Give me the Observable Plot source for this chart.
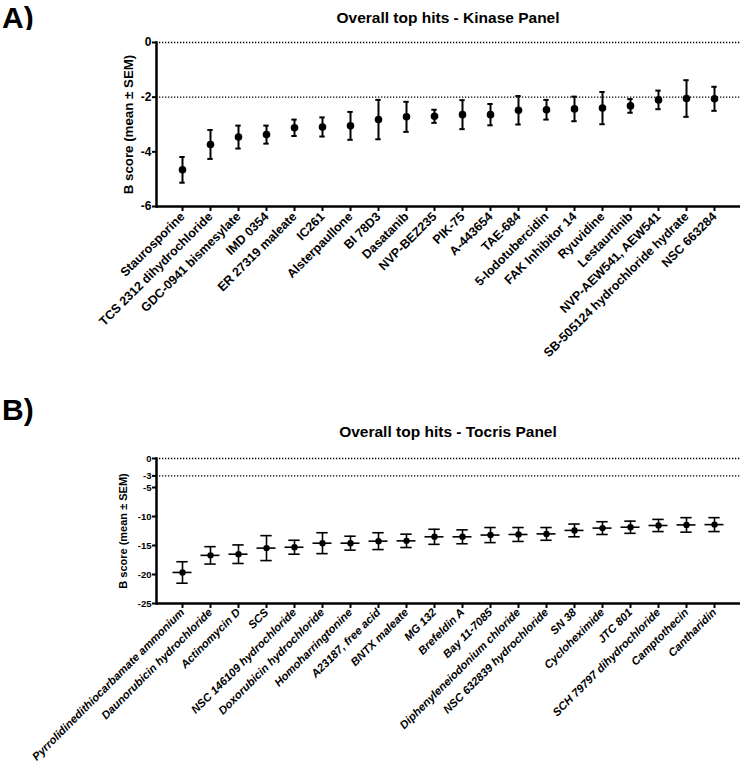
<!DOCTYPE html>
<html><head><meta charset="utf-8">
<script src="https://cdn.jsdelivr.net/npm/d3@7"></script>
<script src="https://cdn.jsdelivr.net/npm/@observablehq/plot@0.6"></script>
<style>
body{margin:0;background:#fff;font-family:"Liberation Sans",Arial,sans-serif;}
#root{position:relative;width:740px;height:770px;overflow:hidden;background:#fff}
.lab{position:absolute;left:2px;font-weight:bold;font-size:30px;line-height:30px;color:#000}
.ttl{position:absolute;left:156px;width:584px;text-align:center;font-weight:bold;font-size:15.5px;line-height:18px;color:#000;white-space:nowrap}
.chart{position:absolute;left:0}
</style></head>
<body><div id="root">
<div class="lab" style="top:3px">A)</div>
<div class="ttl" style="top:8.5px">Overall top hits - Kinase Panel</div>
<div class="chart" id="a" style="top:30px"></div>
<div class="lab" style="top:395px">B)</div>
<div class="ttl" style="top:423px">Overall top hits - Tocris Panel</div>
<div class="chart" id="b" style="top:440px"></div>
</div>
<script>
const kinaseNames = ["Staurosporine","TCS 2312 dihydrochloride","GDC-0941 bismesylate","IMD 0354","ER 27319 maleate","IC261","Alsterpaullone","BI 78D3","Dasatanib","NVP-BEZ235","PIK-75","A-443654","TAE-684","5-Iodotubercidin","FAK Inhibitor 14","Ryuvidine","Lestaurtinib","NVP-AEW541, AEW541","SB-505124 hydrochloride hydrate","NSC 663284"];
const kinaseMean = [-4.66,-3.73,-3.46,-3.37,-3.12,-3.09,-3.05,-2.82,-2.72,-2.70,-2.64,-2.64,-2.48,-2.46,-2.43,-2.40,-2.32,-2.10,-2.05,-2.06];
const kinaseSem  = [0.47,0.53,0.42,0.33,0.30,0.35,0.51,0.72,0.55,0.24,0.53,0.39,0.52,0.36,0.45,0.59,0.25,0.34,0.67,0.44];
const kinaseTicks = [0,-2,-4,-6];
const kinaseRefs = [0,-2];

const tocrisNames = ["Pyrrolidinedithiocarbamate ammonium","Daunorubicin hydrochloride","Actinomycin D","SCS","NSC 146109 hydrochloride","Doxorubicin hydrochloride","Homoharringtonine","A23187, free acid","BNTX maleate","MG 132","Brefeldin A","Bay 11-7085","Diphenyleneiodonium chloride","NSC 632839 hydrochloride","SN 38","Cycloheximide","JTC 801","SCH 79797 dihydrochloride","Camptothecin","Cantharidin"];
const tocrisMean = [-19.65,-16.7,-16.5,-15.45,-15.3,-14.6,-14.6,-14.25,-14.2,-13.5,-13.5,-13.2,-13.1,-13.0,-12.4,-12.0,-11.85,-11.55,-11.45,-11.4];
const tocrisSem  = [1.85,1.5,1.6,2.15,1.2,1.8,1.2,1.45,1.15,1.3,1.2,1.3,1.2,1.1,1.1,1.1,1.05,1.05,1.25,1.2];
const tocrisTicks = [0,-3,-5,-10,-15,-20,-25];
const tocrisRefs = [0,-3];

const yLabel = "B score (mean ± SEM)";
const fmt = d => d === 0 ? "0" : "-" + Math.abs(d);

function build(names, means, sems, cfg) {
  const data = names.map((n, i) => ({name: n, mean: means[i], lo: means[i] - sems[i], hi: means[i] + sems[i]}));
  const marks = [
    Plot.ruleY(cfg.refs, {stroke: "#000", strokeWidth: 1.3, strokeDasharray: "1.3,1.7"}),
    Plot.ruleX(data, {x: "name", y1: "lo", y2: "hi", stroke: "#000", strokeWidth: cfg.sw}),
    Plot.tickY(data, {x: "name", y: "lo", stroke: "#000", strokeWidth: cfg.sw, insetLeft: cfg.capInset, insetRight: cfg.capInset}),
    Plot.tickY(data, {x: "name", y: "hi", stroke: "#000", strokeWidth: cfg.sw, insetLeft: cfg.capInset, insetRight: cfg.capInset}),
  ];
  if (cfg.meanInset != null) {
    marks.push(Plot.tickY(data, {x: "name", y: "mean", stroke: "#000", strokeWidth: cfg.sw, insetLeft: cfg.meanInset, insetRight: cfg.meanInset}));
  }
  marks.push(
    Plot.dot(data, {x: "name", y: "mean", r: cfg.r, fill: "#000", stroke: "none"}),
    Plot.ruleY([cfg.domain[0]], {stroke: "#000", strokeWidth: 2.5}),
    Plot.frame({anchor: "left", stroke: "#000", strokeWidth: 2.5}),
    Plot.axisY({ticks: cfg.ticks, tickFormat: fmt, tickSize: 4, strokeWidth: 2, tickPadding: 1, fontSize: cfg.yFont, fontWeight: "bold", label: null}),
    Plot.text([yLabel], {frameAnchor: "left", dx: cfg.labelDx, rotate: -90, textAnchor: "middle", lineAnchor: "middle", fontSize: cfg.labelFont, fontWeight: "bold", fill: "#000"}),
    Plot.axisX({tickRotate: -45, tickSize: 5, strokeWidth: 2, tickPadding: cfg.xPad, fontSize: cfg.xFont, fontWeight: "bold", fontStyle: cfg.xStyle, label: null})
  );
  return Plot.plot({
    width: 740, height: cfg.height,
    marginLeft: 156, marginRight: 0, marginTop: cfg.mt, marginBottom: cfg.mb,
    style: {fontFamily: "'Liberation Sans', Arial, sans-serif", fontWeight: "bold", color: "#000", background: "#fff", overflow: "visible"},
    x: {type: "band", domain: names, range: [161.5, 733.5], padding: 0, label: null},
    y: {domain: cfg.domain, label: null},
    marks
  });
}

document.getElementById("a").append(build(kinaseNames, kinaseMean, kinaseSem, {
  height: 340, mt: 12, mb: 164, domain: [-6, 0], ticks: kinaseTicks, refs: kinaseRefs,
  sw: 2, capInset: 11.3, meanInset: null, r: 3.8, yFont: 12, xFont: 12.5, xStyle: "normal", xPad: 3,
  labelFont: 13.3, labelDx: -28
}));
document.getElementById("b").append(build(tocrisNames, tocrisMean, tocrisSem, {
  height: 330, mt: 18, mb: 167, domain: [-25, 0], ticks: tocrisTicks, refs: tocrisRefs,
  sw: 1.6, capInset: 8.3, meanInset: 4.5, r: 3.2, yFont: 9.5, xFont: 11.3, xStyle: "italic", xPad: 2,
  labelFont: 11, labelDx: -33
}));
</script>
</body></html>
